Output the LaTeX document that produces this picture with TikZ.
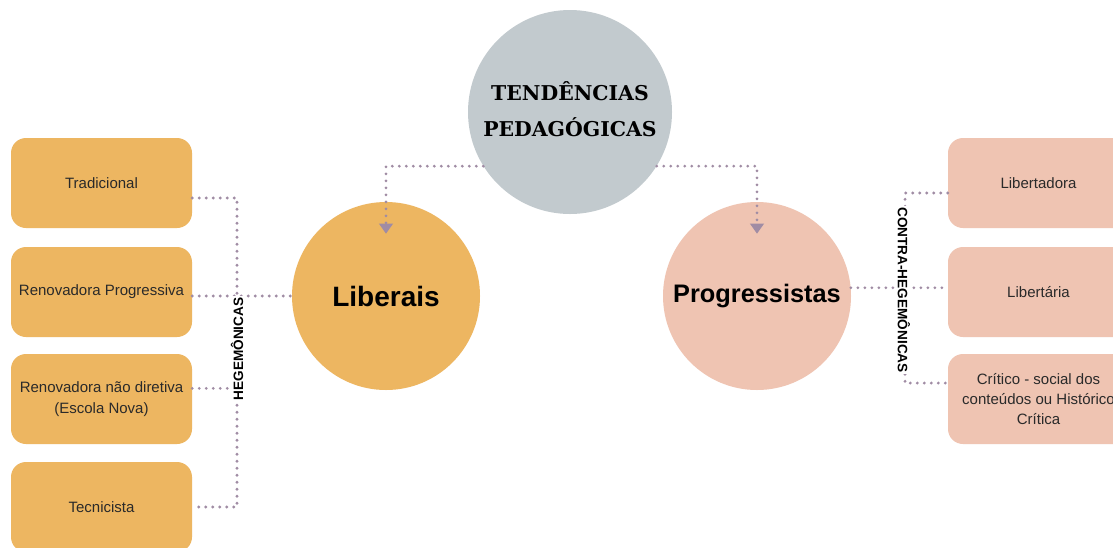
\documentclass[tikz,border=0pt]{standalone}
\usepackage{fontspec}
\setmainfont{Liberation Sans}
\newfontfamily\slabfont{DejaVu Serif}
\usepackage{tikz}
\usetikzlibrary{arrows.meta}
\usetikzlibrary{calc}

\definecolor{liborange}{HTML}{EDB661}
\definecolor{progpink}{HTML}{EFC4B2}
\definecolor{titlegray}{HTML}{C2CACE}
\definecolor{linkcol}{HTML}{A08CA4}
\definecolor{boxtext}{HTML}{2A2A2A}

\tikzset{
  link/.style={draw=linkcol, line width=2.3pt, line cap=round, dash pattern=on 0pt off 5.25pt},
  itembox/.style={rounded corners=11.25pt, minimum width=135.75pt, minimum height=67.5pt,
    align=center, text=boxtext, font=\fontsize{11.25}{15.2}\selectfont},
  bigdisc/.style={circle, minimum size=141pt, inner sep=0pt, font=\bfseries},
  sidelabel/.style={fill=white, inner sep=1pt, font=\bfseries\fontsize{10.2}{12}\selectfont}
}

\begin{document}
\begin{tikzpicture}[x=0.75pt,y=-0.75pt]
    \clip (0,0) rectangle (1113,547);
    \fill[white] (0,0) rectangle (1113,547);

    % the three circles
    \node[circle, fill=titlegray, minimum size=153pt, inner sep=0pt, align=center, text depth=4pt,
          font=\slabfont\bfseries\fontsize{15.3}{27}\selectfont] (tp) at (570,112) {TENDÊNCIAS\\PEDAGÓGICAS};
    \node[bigdisc, fill=liborange, font=\bfseries\fontsize{21}{24}\selectfont] (lib) at (386,296) {Liberais};
    \node[bigdisc, fill=progpink, font=\bfseries\fontsize{19}{22}\selectfont] (prog) at (757,296) {Progressistas};

    % liberal tendencies
    \begin{scope}[every node/.style={itembox, fill=liborange}]
    \node (trad) at (101.5,183) {Tradicional};
    \node (renprog) at (101.5,292) {Renovadora Progressiva};
    \node (rennd) at (101.5,399) {Renovadora não diretiva\\(Escola Nova)};
    \node (tec) at (101.5,507) {Tecnicista};
    \end{scope}

    % progressive tendencies
    \begin{scope}[every node/.style={itembox, fill=progpink}]
    \node (lbtd) at (1038.5,183) {Libertadora};
    \node (lbta) at (1038.5,292) {Libertária};
    \node (crit) at (1038.5,399) {Crítico - social dos\\conteúdos ou Histórico\\Crítica};
    \end{scope}

    \coordinate (hrail) at (237,0);
    \coordinate (crail) at (905,0);

    % title to both groups
    \draw[link, -{Triangle[width=10pt,length=7.5pt]}, shorten >=-24pt] (tp.212) -| (lib.north);
    \draw[link, -{Triangle[width=10pt,length=7.5pt]}, shorten >=-24pt] (tp.328) -| (prog.north);

    % left rail
    \draw[link] ([yshift=-11.25pt]trad.east) -| (tec.east -| hrail) -- (tec.east);
    \draw[link] ([yshift=8pt]rennd.east) -- ([yshift=8pt]rennd.east -| hrail);
    \draw[link] (lib.west -| renprog.east) -- (lib.west);

    % right rail
    \draw[link] ([yshift=-7.5pt]lbtd.west) -| ([yshift=12pt]crit.west -| crail) -- ([yshift=12pt]crit.west);
    \draw[link] (prog.5) -- (prog.5 -| lbta.west);

    \node[sidelabel, rotate=90] (heg) at (237,349) {HEGEMÔNICAS};
    \node[sidelabel, rotate=-90] (cheg) at (904,290) {CONTRA-HEGEMÔNICAS};
\end{tikzpicture}
\end{document}
